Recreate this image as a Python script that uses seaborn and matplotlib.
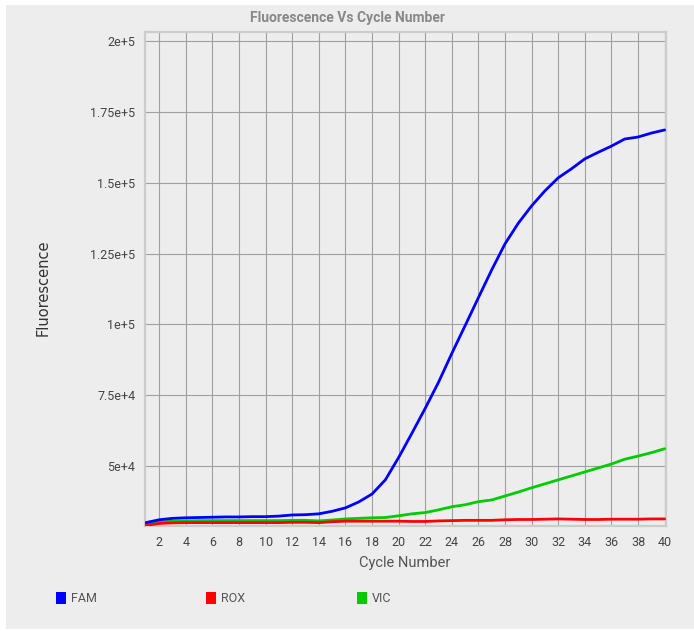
import matplotlib
matplotlib.use("Agg")
import matplotlib.pyplot as plt
import matplotlib.patches as mpatches
import pandas as pd
import seaborn as sns

# cycle numbers and the fluorescence read for each dye
cycles = list(range(1, 41))
fam = [30000, 31000, 31500, 31700, 31800, 31900, 32000, 32000, 32100, 32100,
       32300, 32700, 32800, 33100, 34000, 35200, 37300, 40100, 45100, 53000,
       61600, 70400, 79600, 89800, 99600, 109500, 119300, 128500, 135800, 141900,
       147200, 151800, 155000, 158500, 160800, 163000, 165500, 166200, 167600, 168700]
vic = [29500, 30200, 30500, 30600, 30700, 30700, 30700, 30700, 30700, 30700,
       30700, 30800, 30800, 30600, 30900, 31300, 31500, 31700, 31800, 32400,
       33100, 33550, 34500, 35600, 36300, 37400, 38000, 39400, 40800, 42300,
       43700, 45100, 46500, 47900, 49300, 50700, 52400, 53500, 54700, 56100]
rox = [29000, 29700, 29900, 30000, 30000, 30000, 30000, 30000, 30000, 30000,
       30000, 30100, 30100, 30000, 30300, 30500, 30500, 30500, 30500, 30500,
       30400, 30400, 30600, 30700, 30800, 30800, 30800, 31000, 31100, 31100,
       31200, 31300, 31200, 31100, 31100, 31200, 31200, 31200, 31300, 31300]
dyes = ["FAM", "ROX", "VIC"]
dye_colors = {"FAM": "#0000ff", "ROX": "#ff0000", "VIC": "#00cc00"}
y_ticks = [50000, 75000, 100000, 125000, 150000, 175000, 200000]
y_labels = ["5e+4", "7.5e+4", "1e+5", "1.25e+5", "1.5e+5", "1.75e+5", "2e+5"]
x_ticks = list(range(2, 41, 2))

df = pd.DataFrame({
    "Cycle": cycles * 3,
    "Fluorescence": fam + rox + vic,
    "Dye": ["FAM"] * 40 + ["ROX"] * 40 + ["VIC"] * 40,
})

sns.set_style("white")
plt.rcParams["font.family"] = ["Roboto", "DejaVu Sans"]

fig = plt.figure(figsize=(6.94, 6.31), dpi=100, facecolor="white")
# light gray panel behind everything
fig.patches.append(mpatches.Rectangle((6 / 694, 2 / 631), 688 / 694, 624 / 631,
                                      transform=fig.transFigure, facecolor="#ededed",
                                      edgecolor="none", zorder=-10))
ax = fig.add_axes([145 / 694, 1 - 526 / 631, 521 / 694, 494 / 631])
ax.set_facecolor("#ededed")

# draw the VIC first so FAM sits on top, ROX last like the reference
for dye in ["VIC", "ROX", "FAM"]:
    sns.lineplot(data=df[df.Dye == dye], x="Cycle", y="Fluorescence", color=dye_colors[dye],
                 linewidth=2.0, ax=ax, legend=False, zorder=3)

ax.set_xlim(0.93, 40.1)
ax.set_ylim(28800, 203300)
ax.set_xticks(x_ticks)
ax.set_xticklabels([str(t) for t in x_ticks])
ax.set_yticks(y_ticks)
ax.set_yticklabels(y_labels)
ax.tick_params(length=0, labelsize=9, colors="#444444", pad=7)
ax.grid(True, color="#a0a0a0", linewidth=0.8, zorder=1)
ax.set_axisbelow(True)
for s in ax.spines.values():
    s.set_color("#cccccc")
    s.set_linewidth(1.6)
ax.set_xlabel("")
ax.set_ylabel("")

fig.text(0.5, 1 - 18 / 631, "Fluorescence Vs Cycle Number", ha="center", va="center",
         fontsize=10, fontweight="bold", color="#888888")
fig.text(405 / 694, 1 - 563 / 631, "Cycle Number", ha="center", va="center",
         fontsize=10.5, color="#555555")
fig.text(43 / 694, 1 - 288 / 631, "Fluorescence", ha="center", va="center", rotation=90,
         fontsize=10.5, color="#333333", family="DejaVu Sans")

# legend squares along the bottom
legend_x = [56, 206, 357]
for dye, lx in zip(dyes, legend_x):
    fig.patches.append(mpatches.Rectangle((lx / 694, 1 - 604 / 631), 10 / 694, 12 / 631,
                                          transform=fig.transFigure,
                                          facecolor=dye_colors[dye], edgecolor="none"))
    fig.text((lx + 15) / 694, 1 - 598 / 631, dye, ha="left", va="center",
             fontsize=9, color="#555555")

fig.savefig("out.png", dpi=100, facecolor=fig.get_facecolor())
plt.close()
